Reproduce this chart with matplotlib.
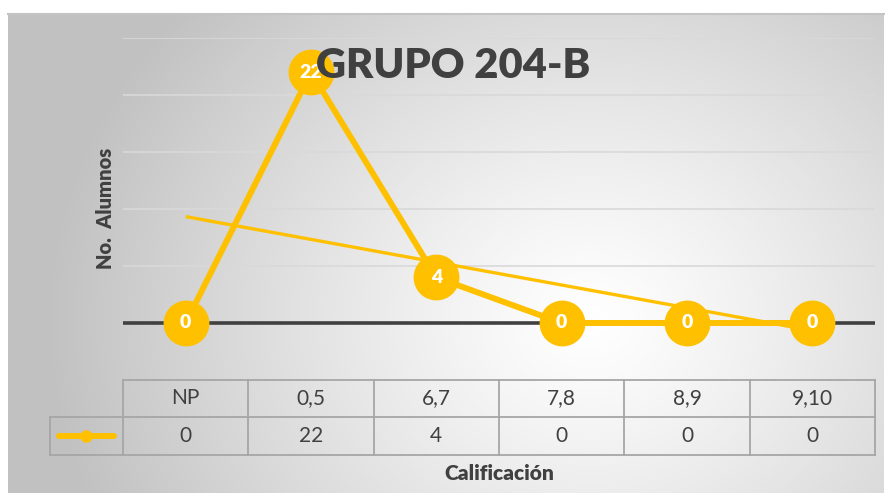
import numpy as np
import matplotlib
matplotlib.use("Agg")
import matplotlib.pyplot as plt

plt.rcParams['font.family'] = ['Lato', 'DejaVu Sans']

categories = ["NP", "0,5", "6,7", "7,8", "8,9", "9,10"]
values = [0, 22, 4, 0, 0, 0]
title = "GRUPO 204-B"
ylabel = "No.  Alumnos"
xlabel = "Calificación"

W, H = 885, 493
fig = plt.figure(figsize=(W / 100, H / 100), dpi=100)

# background radial gradient
bg = fig.add_axes([0, 0, 1, 1])
bg.set_xlim(0, W)
bg.set_ylim(H, 0)
bg.axis("off")
x0, y0, x1, y1 = 8, 13, 884, 493
xx, yy = np.meshgrid(np.arange(x0, x1), np.arange(y0, y1))
d = np.hypot(xx - 590, (yy - 320) * 1.15)
t = np.clip(d / 540, 0, 1)
g = 1 - 0.24 * t ** 1.2
img = np.dstack([g, g, g])
bg.imshow(img, extent=(x0, x1, y1, y0), aspect="auto", interpolation="bilinear")
bg.plot([x0, x1], [y0 + 0.5, y0 + 0.5], color="#c4c4c4", lw=1.5)

# main axes
L, R, T, B = 123, 875, 38, 380
ax = fig.add_axes([L / W, 1 - B / H, (R - L) / W, (B - T) / H])
ax.patch.set_alpha(0)
for s in ax.spines.values():
    s.set_visible(False)
ax.set_xlim(-0.5, len(categories) - 0.5)
ax.set_ylim(-5, 25)
ax.set_xticks([])
ax.set_yticks([])

for yv in [5, 10, 15, 20, 25]:
    ax.axhline(yv, color="#d9d9d9", lw=1.2, zorder=1)
ax.axhline(0, color="#404040", lw=2.6, zorder=2)

xs = np.arange(len(categories))
yellow = "#FFC000"
ax.plot(xs, values, color=yellow, lw=4.3, marker="o", ms=32, mec=yellow,
        mfc=yellow, zorder=3, clip_on=False, solid_capstyle="round")

coef = np.polyfit(xs, values, 1)
tx = np.array([xs[0], xs[-1]])
ax.plot(tx, np.polyval(coef, tx), color=yellow, lw=2.4, zorder=4,
        solid_capstyle="butt", clip_on=False)

for xv, v in zip(xs, values):
    ax.text(xv, v, str(v), color="white", fontsize=14, fontweight="heavy",
            ha="center", va="center", zorder=5)

# data table
tr = ax.get_xaxis_transform()
axh = B - T
r1 = -37 / axh
r2 = -75 / axh
gc = "#a6a6a6"
lw_t = 1.3
n = len(categories)
leg_left = -0.5 - (L - 50) / ((R - L) / n)
ax.plot([-0.5, n - 0.5], [0, 0], transform=tr, color=gc, lw=lw_t, clip_on=False, zorder=2)
ax.plot([leg_left, n - 0.5], [r1, r1], transform=tr, color=gc, lw=lw_t, clip_on=False)
ax.plot([leg_left, n - 0.5], [r2, r2], transform=tr, color=gc, lw=lw_t, clip_on=False)
for i in range(n + 1):
    ax.plot([i - 0.5, i - 0.5], [0, r2], transform=tr, color=gc, lw=lw_t, clip_on=False)
ax.plot([leg_left, leg_left], [r1, r2], transform=tr, color=gc, lw=lw_t, clip_on=False)

for i, (c, v) in enumerate(zip(categories, values)):
    ax.text(i, r1 / 2, c, transform=tr, ha="center", va="center",
            fontsize=15, color="#404040")
    ax.text(i, (r1 + r2) / 2, str(v), transform=tr, ha="center", va="center",
            fontsize=15, color="#404040")

lx = (leg_left + (-0.5)) / 2
ly = (r1 + r2) / 2
span = (-0.5 - leg_left) * 0.38
ax.plot([lx - span, lx + span], [ly, ly], transform=tr, color=yellow, lw=4.3,
        clip_on=False, solid_capstyle="round")
ax.plot([lx], [ly], transform=tr, marker="o", ms=8, color=yellow, clip_on=False)

ax.text(0.5, -93 / axh, xlabel, transform=ax.transAxes, ha="center",
        va="center", fontsize=15, fontweight="heavy", color="#404040")
ax.text((105 - L) / (R - L), (B - 208) / axh, ylabel, transform=ax.transAxes,
        rotation=90, ha="center", va="center", fontsize=14.5, fontweight="heavy",
        color="#404040")

# title drawn last, on top of the marks (as in the reference)
fig.text(((x0 + x1) / 2 + 7) / W, 1 - 66 / H, title, ha="center", va="center",
         fontsize=30, fontweight="heavy", color="#404040", zorder=10)

fig.savefig("out.png", dpi=100)
